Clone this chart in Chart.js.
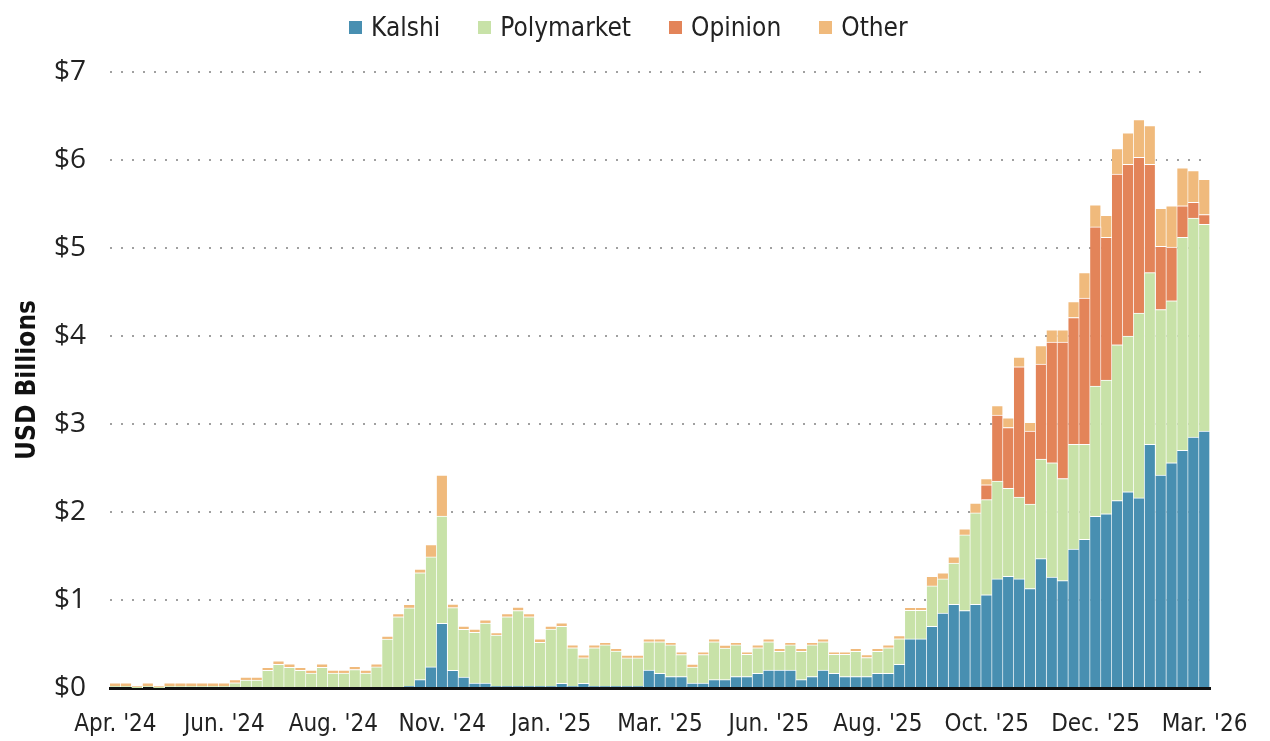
<!DOCTYPE html>
<html>
<head>
<meta charset="utf-8">
<script src="https://cdn.jsdelivr.net/npm/chart.js@4.4.1/dist/chart.umd.min.js"></script>
<style>
    body { margin: 0; background: #fff; }
    #wrap { position: relative; width: 1270px; height: 741px; }
    #legend {
        position: absolute; top: 8px; left: 349px;
        display: flex; align-items: center;
        font-family: 'Liberation Sans Narrow', 'DejaVu Sans Condensed', sans-serif;
        font-size: 26px; color: #222; line-height: 38px;
    }
    #legend .item { display: flex; align-items: center; margin-right: 38px; }
    #legend .box { width: 13px; height: 13px; margin-right: 9px; }
</style>
</head>
<body>
<div id="wrap">
    <canvas id="chart" width="1270" height="741"></canvas>
    <div id="legend"></div>
</div>
<script>
// weekly volume, USD billions (week 0 = 8 Apr 2024)
const startWeek = new Date(Date.UTC(2024, 3, 8));
const weekCount = 101;
const tickLabels = ["Apr. '24", "Jun. '24", "Aug. '24", "Nov. '24", "Jan. '25", "Mar. '25",
    "Jun. '25", "Aug. '25", "Oct. '25", "Dec. '25", "Mar. '26"];

const kalshi = [
    0, 0, 0, 0, 0, 0, 0, 0, 0, 0,
    0, 0, 0, 0, 0, 0, 0, 0, 0, 0,
    0, 0, 0, 0, 0, 0, 0, 0.02, 0.095, 0.24,
    0.735, 0.2, 0.125, 0.057, 0.057, 0.02, 0.02, 0.02, 0.02, 0.02,
    0.02, 0.053, 0.02, 0.053, 0.02, 0.02, 0.02, 0.02, 0.02, 0.205,
    0.167, 0.13, 0.13, 0.057, 0.057, 0.095, 0.095, 0.13, 0.13, 0.167,
    0.205, 0.205, 0.205, 0.095, 0.13, 0.205, 0.167, 0.13, 0.13, 0.13,
    0.167, 0.167, 0.27, 0.558, 0.558, 0.70, 0.85, 0.95, 0.88, 0.95,
    1.06, 1.24, 1.27, 1.24, 1.13, 1.47, 1.26, 1.22, 1.58, 1.69,
    1.95, 1.98, 2.13, 2.23, 2.16, 2.77, 2.42, 2.56, 2.70, 2.85,
    2.92
];
const polymarket = [
    0.02, 0.02, 0.005, 0.02, 0.005, 0.02, 0.02, 0.02, 0.02, 0.02,
    0.02, 0.06, 0.09, 0.09, 0.2, 0.27, 0.235, 0.2, 0.17, 0.235,
    0.17, 0.17, 0.21, 0.17, 0.24, 0.555, 0.81, 0.89, 1.215, 1.25,
    1.22, 0.713, 0.543, 0.577, 0.68, 0.58, 0.79, 0.86, 0.79, 0.5,
    0.65, 0.647, 0.436, 0.29, 0.436, 0.47, 0.4, 0.322, 0.322, 0.32,
    0.358, 0.36, 0.25, 0.18, 0.323, 0.43, 0.36, 0.36, 0.254, 0.29,
    0.32, 0.213, 0.285, 0.323, 0.36, 0.32, 0.217, 0.254, 0.288, 0.216,
    0.251, 0.289, 0.29, 0.325, 0.325, 0.46, 0.39, 0.47, 0.86, 1.04,
    1.08, 1.11, 1.00, 0.93, 0.96, 1.13, 1.30, 1.16, 1.19, 1.08,
    1.48, 1.52, 1.77, 1.77, 2.10, 1.95, 1.88, 1.84, 2.42, 2.49,
    2.35
];
const opinion = [
    0, 0, 0, 0, 0, 0, 0, 0, 0, 0,
    0, 0, 0, 0, 0, 0, 0, 0, 0, 0,
    0, 0, 0, 0, 0, 0, 0, 0, 0, 0,
    0, 0, 0, 0, 0, 0, 0, 0, 0, 0,
    0, 0, 0, 0, 0, 0, 0, 0, 0, 0,
    0, 0, 0, 0, 0, 0, 0, 0, 0, 0,
    0, 0, 0, 0, 0, 0, 0, 0, 0, 0,
    0, 0, 0, 0, 0, 0, 0, 0, 0, 0,
    0.17, 0.75, 0.69, 1.48, 0.83, 1.08, 1.37, 1.55, 1.44, 1.66,
    1.81, 1.62, 1.94, 1.95, 1.77, 1.23, 0.72, 0.61, 0.36, 0.18,
    0.11
];
const other = [
    0.04, 0.04, 0.02, 0.04, 0.02, 0.04, 0.04, 0.04, 0.04, 0.04,
    0.04, 0.035, 0.035, 0.035, 0.035, 0.04, 0.04, 0.035, 0.035, 0.04,
    0.035, 0.035, 0.035, 0.035, 0.035, 0.035, 0.035, 0.04, 0.04, 0.14,
    0.465, 0.04, 0.037, 0.035, 0.037, 0.03, 0.035, 0.04, 0.035, 0.04,
    0.035, 0.04, 0.034, 0.033, 0.034, 0.03, 0.032, 0.033, 0.033, 0.035,
    0.035, 0.03, 0.03, 0.034, 0.03, 0.035, 0.034, 0.03, 0.026, 0.034,
    0.035, 0.032, 0.03, 0.032, 0.03, 0.035, 0.026, 0.026, 0.032, 0.034,
    0.032, 0.034, 0.035, 0.034, 0.034, 0.11, 0.07, 0.07, 0.07, 0.11,
    0.07, 0.11, 0.11, 0.11, 0.10, 0.21, 0.14, 0.14, 0.18, 0.29,
    0.25, 0.25, 0.29, 0.36, 0.43, 0.44, 0.43, 0.47, 0.43, 0.36,
    0.40
];

const weeks = [];
for (let i = 0; i < weekCount; i++) {
    const d = new Date(startWeek.getTime() + i * 7 * 86400000);
    weeks.push(d.toISOString().slice(0, 10));
}

const seriesColors = {
    Kalshi: '#488FB1',
    Polymarket: '#C8E2A8',
    Opinion: '#E38459',
    Other: '#F0BA7C'
};

const narrow = "'Liberation Sans Narrow', 'DejaVu Sans Condensed', sans-serif";

function makeSet(label, data) {
    return {
        label: label,
        data: data,
        backgroundColor: seriesColors[label],
        borderColor: '#fff',
        borderWidth: { top: 1, right: 1, left: 0, bottom: 0 },
        borderSkipped: false,
        barPercentage: 1,
        categoryPercentage: 1
    };
}

const datasets = [
    makeSet('Kalshi', kalshi),
    makeSet('Polymarket', polymarket),
    makeSet('Opinion', opinion),
    makeSet('Other', other)
];

// legend built from the datasets
const legendEl = document.getElementById('legend');
datasets.forEach(ds => {
    const item = document.createElement('div');
    item.className = 'item';
    const box = document.createElement('span');
    box.className = 'box';
    box.style.background = ds.backgroundColor;
    const txt = document.createElement('span');
    txt.textContent = ds.label;
    item.appendChild(box);
    item.appendChild(txt);
    legendEl.appendChild(item);
});

new Chart(document.getElementById('chart'), {
    type: 'bar',
    data: { labels: weeks, datasets: datasets },
    options: {
        responsive: false,
        animation: false,
        layout: { padding: { top: 72, right: 60, left: 0, bottom: 0 } },
        plugins: {
            legend: { display: false },
            tooltip: { enabled: false }
        },
        scales: {
            x: {
                stacked: true,
                grid: { display: false, drawTicks: false },
                border: { display: true, color: '#111', width: 3 },
                ticks: {
                    autoSkip: false,
                    maxRotation: 0,
                    padding: 22,
                    color: '#222',
                    font: { family: narrow, size: 24 },
                    callback: function(value, index) {
                        return index % 10 === 0 ? tickLabels[index / 10] : '';
                    }
                },
                afterFit: function(scale) { scale.height = 53; }
            },
            y: {
                stacked: true,
                min: 0,
                max: 7,
                grid: {
                    drawTicks: false,
                    lineWidth: 2,
                    color: ctx => ctx.tick && ctx.tick.value === 0 ? 'rgba(0,0,0,0)' : '#a0a0a0'
                },
                border: { display: false, dash: [2, 9] },
                ticks: {
                    stepSize: 1,
                    padding: 24,
                    color: '#222',
                    font: { family: "'Open Sans', sans-serif", size: 28 },
                    callback: v => '$' + v
                },
                title: {
                    display: true,
                    text: 'USD Billions',
                    color: '#111',
                    padding: { top: 13, bottom: 0 },
                    font: { family: narrow, size: 26, weight: 'bold' }
                },
                afterFit: function(scale) { scale.width = 110; }
            }
        }
    }
});
</script>
</body>
</html>
